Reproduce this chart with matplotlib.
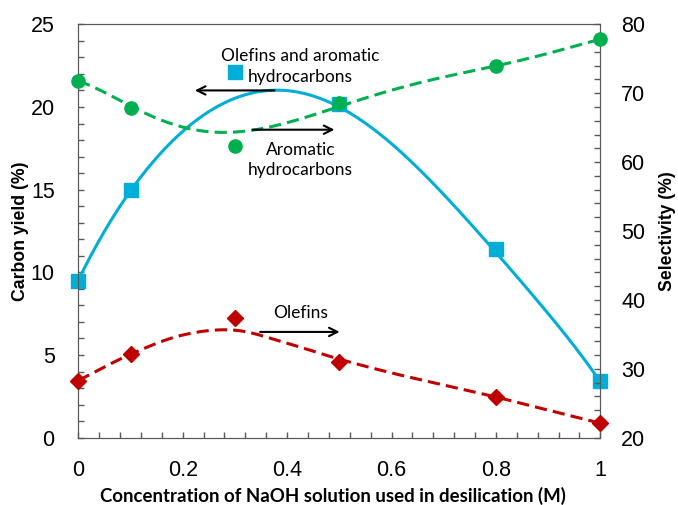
import matplotlib.pyplot as plt
import numpy as np
from matplotlib.ticker import MultipleLocator, FormatStrFormatter

# NaOH concentration (M)
conc = [0, 0.1, 0.3, 0.5, 0.8, 1.0]
# carbon yield (%), left axis
yield_total = [9.5, 15.0, 22.1, 20.2, 11.4, 3.4]
# selectivity (%), right axis
sel_aromatic = [71.7, 67.9, 62.3, 68.6, 74.0, 77.9]
sel_olefins = [28.2, 32.1, 37.4, 31.0, 25.9, 22.1]

# trend curves as drawn in the figure, read every 0.1 M
trend_x = [0, 0.1, 0.2, 0.3, 0.4, 0.5, 0.6, 0.7, 0.8, 0.9, 1.0]
trend_yield = [9.5, 15.0, 18.4, 20.6, 20.95, 20.1, 17.7, 14.6, 11.4, 7.4, 3.4]
trend_aromatic = [71.8, 67.95, 65.4, 64.3, 65.3, 68.5, 70.4, 72.2, 74.0, 75.8, 77.8]
trend_olefins = [28.3, 32.1, 34.9, 35.6, 33.7, 31.4, 29.4, 27.65, 25.9, 24.0, 22.1]

blue = "#00AED8"
green = "#00B050"
red = "#C00000"
spine_col = "#595959"


def smooth(x, y, n=30):
    # Catmull-Rom smoothing through the trend points
    x = np.asarray(x, float)
    y = np.asarray(y, float)
    m = np.gradient(y)
    t = np.linspace(0, 1, n, endpoint=False)
    h00 = 2 * t**3 - 3 * t**2 + 1
    h10 = t**3 - 2 * t**2 + t
    h01 = -2 * t**3 + 3 * t**2
    h11 = t**3 - t**2
    xs, ys = [], []
    for i in range(len(x) - 1):
        xs.append(x[i] + t * (x[i + 1] - x[i]))
        ys.append(h00 * y[i] + h10 * m[i] + h01 * y[i + 1] + h11 * m[i + 1])
    xs.append([x[-1]])
    ys.append([y[-1]])
    return np.concatenate(xs), np.concatenate(ys)


fig = plt.figure(figsize=(6.78, 5.05), dpi=100)
ax = fig.add_axes([0.1155, 0.1333, 0.7699, 0.8186])
ax2 = ax.twinx()

xs = np.linspace(0, 1, 300)
fit_b = np.polyval(np.polyfit(trend_x, trend_yield, 6), xs)
fit_g = np.polyval(np.polyfit(trend_x, trend_aromatic, 6), xs)

dash = (0, (4, 2))
ax.plot(xs, fit_b, color=blue, lw=2.2, zorder=2)
ax.plot(conc, yield_total, "s", color=blue, ms=9.5, zorder=3, clip_on=False)

ax2.plot(xs, fit_g, color=green, lw=2.2, ls=dash, zorder=2)
ax2.plot(conc, sel_aromatic, "o", color=green, ms=9.5, zorder=3, clip_on=False)
ax2.plot(*smooth(trend_x, trend_olefins), color=red, lw=2.2, ls=dash, zorder=2)
ax2.plot(conc, sel_olefins, "D", color=red, ms=8, zorder=3, clip_on=False)

ax.set_xlim(0, 1)
ax.set_ylim(0, 25)
ax2.set_ylim(20, 80)

ax.xaxis.set_major_locator(MultipleLocator(0.2))
ax.xaxis.set_minor_locator(MultipleLocator(0.04))
ax.xaxis.set_major_formatter(FormatStrFormatter("%g"))
ax.yaxis.set_major_locator(MultipleLocator(5))
ax.yaxis.set_minor_locator(MultipleLocator(1))
ax2.yaxis.set_major_locator(MultipleLocator(10))
ax2.yaxis.set_minor_locator(MultipleLocator(2))

for a in (ax, ax2):
    a.tick_params(which="both", direction="in", length=4, width=1, color=spine_col,
                  labelsize=15.5)
    for lab in a.get_xticklabels() + a.get_yticklabels():
        lab.set_fontfamily("Liberation Sans")
    for s in a.spines.values():
        s.set_color(spine_col)
ax.tick_params(axis="x", pad=16)
ax.tick_params(axis="y", which="both", right=False, pad=17)
ax2.tick_params(axis="y", which="both", left=False, pad=15)

ax.set_xlabel("Concentration of NaOH solution used in desilication (M)",
              family="Lato", weight="bold", fontsize=13.4)
ax.xaxis.set_label_coords(0.487, -0.12)
ax.set_ylabel("Carbon yield (%)", family="Liberation Sans", weight="bold",
              fontsize=12.7, labelpad=1)
ax2.set_ylabel("Selectivity (%)", family="Liberation Sans", weight="bold",
               fontsize=12.7, labelpad=10, rotation=90)

arrow = dict(arrowstyle="->", color="black", lw=1.5, mutation_scale=15)
note = dict(family="Lato", fontsize=12.5, ha="center", va="center")

ax.annotate("", xy=(0.218, 21.0), xytext=(0.381, 21.0), arrowprops=arrow)
ax.text(0.426, 22.45, "Olefins and aromatic\nhydrocarbons", linespacing=1.35, **note)

ax2.annotate("", xy=(0.496, 64.7), xytext=(0.329, 64.7), arrowprops=arrow)
ax2.text(0.426, 60.3, "Aromatic\nhydrocarbons", linespacing=1.35, **note)

ax2.annotate("", xy=(0.506, 35.35), xytext=(0.343, 35.35), arrowprops=arrow)
ax2.text(0.426, 38.1, "Olefins", **note)

fig.savefig("out.png", dpi=100)
